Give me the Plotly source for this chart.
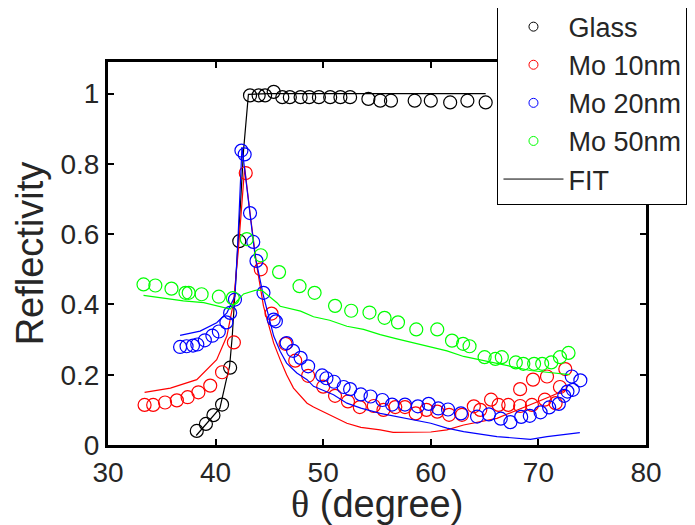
import plotly.graph_objects as go

# measured reflectivity vs incidence angle (degree)
glass_x = [38.25, 39.1, 39.8, 40.6, 41.35, 42.2, 43.2, 44.0, 44.6, 45.4, 46.2, 46.9, 47.9, 48.7,
           49.6, 50.65, 51.6, 52.5, 54.2, 55.3, 56.3, 58.5, 60.0, 61.8, 63.4, 65.1]
glass_y = [0.04, 0.06, 0.085, 0.115, 0.22, 0.58, 0.995, 0.995, 0.995, 1.005, 0.99, 0.99, 0.99, 0.99,
           0.99, 0.99, 0.99, 0.99, 0.985, 0.98, 0.98, 0.98, 0.98, 0.975, 0.98, 0.975]

mo10_x = [33.4, 34.2, 35.3, 36.4, 37.4, 38.4, 39.5, 40.6, 41.7, 42.8, 44.2, 45.2, 46.5, 47.4,
          48.6, 50.0, 51.1, 52.3, 53.4, 54.7, 55.6, 56.7, 57.6, 58.6, 59.6, 60.6, 61.7, 62.9,
          64.0, 64.6, 65.6, 66.3, 67.2, 68.3, 69.4, 70.6, 71.6, 68.3, 69.5, 70.8, 72.0, 72.5]
mo10_y = [0.114, 0.114, 0.121, 0.127, 0.136, 0.15, 0.169, 0.207, 0.292, 0.774, 0.5, 0.374, 0.288, 0.24,
          0.197, 0.166, 0.14, 0.124, 0.108, 0.111, 0.1, 0.108, 0.108, 0.09, 0.1, 0.095, 0.086, 0.086,
          0.11, 0.1, 0.129, 0.114, 0.114, 0.111, 0.114, 0.129, 0.119, 0.159, 0.186, 0.195, 0.165, 0.216]

mo20_x = [36.7, 37.3, 37.9, 38.3, 39.0, 39.7, 40.3, 41.0, 41.35, 41.8, 42.4, 42.7, 43.2, 43.5,
          43.8, 44.45, 45.4, 45.6, 46.6, 47.2, 47.9, 48.6, 49.9, 50.3, 51.0, 51.9, 52.5, 53.5,
          54.4, 55.5, 56.4, 57.6, 58.8, 59.8, 60.7, 61.6, 62.8, 64.3, 65.4, 66.5, 67.4, 68.4,
          69.2, 70.2, 71.0, 71.9, 72.4, 72.7, 73.2, 73.1, 73.9]
mo20_y = [0.279, 0.281, 0.283, 0.286, 0.298, 0.311, 0.323, 0.349, 0.376, 0.414, 0.838, 0.827, 0.66, 0.578,
          0.524, 0.433, 0.357, 0.352, 0.29, 0.268, 0.248, 0.224, 0.198, 0.19, 0.18, 0.165, 0.159, 0.144,
          0.138, 0.128, 0.115, 0.115, 0.11, 0.117, 0.104, 0.101, 0.09, 0.081, 0.087, 0.075, 0.065, 0.08,
          0.083, 0.093, 0.107, 0.117, 0.14, 0.152, 0.157, 0.195, 0.184]

mo50_x = [33.3, 34.4, 35.9, 37.2, 37.5, 38.7, 40.3, 41.6, 42.9, 44.2, 45.9, 47.8, 49.2, 51.1,
          52.6, 54.3, 55.7, 56.95, 58.65, 60.6, 61.97, 63.0, 63.6, 65.0, 66.0, 66.6, 67.9, 68.6,
          69.6, 70.35, 71.2, 72.0, 72.8]
mo50_y = [0.457, 0.454, 0.445, 0.433, 0.433, 0.429, 0.422, 0.418, 0.586, 0.54, 0.492, 0.452, 0.433, 0.396,
          0.382, 0.377, 0.362, 0.349, 0.329, 0.329, 0.297, 0.288, 0.281, 0.25, 0.245, 0.25, 0.235, 0.231,
          0.231, 0.231, 0.235, 0.25, 0.262]

# fitted curves
glass_fit_x = [38.2, 39.2, 40.4, 41.0, 41.3, 41.55, 41.75, 42.0, 42.3, 42.6, 42.85, 43.05, 45, 50, 55, 60, 65.1]
glass_fit_y = [0.027, 0.062, 0.105, 0.186, 0.224, 0.31, 0.405, 0.52, 0.68, 0.84, 0.94, 0.998, 1.0, 1.0, 1.0, 1.0, 1.0]

mo10_fit_x = [33.4, 35.8, 38.25, 40.1, 41.05, 41.66, 42.1, 42.7, 43.2, 43.8, 44.45, 45.4, 46.0, 46.6,
              47.24, 48.5, 49.1, 50.96, 52.2, 53.5, 55.3, 56.5, 58.4, 60.0, 61.5, 63.05, 66.15, 69.26,
              71.1, 72.5]
mo10_fit_y = [0.15, 0.162, 0.186, 0.243, 0.31, 0.405, 0.55, 0.79, 0.66, 0.515, 0.395, 0.29, 0.243, 0.2,
              0.162, 0.119, 0.108, 0.081, 0.062, 0.05, 0.043, 0.036, 0.036, 0.037, 0.043, 0.057, 0.076, 0.114,
              0.138, 0.157]

mo20_fit_x = [36.7, 38.56, 40.1, 41.05, 41.8, 42.1, 42.45, 43.0, 43.67, 44.45, 45.4, 46.0, 46.6, 47.55,
              48.5, 49.1, 50.96, 52.2, 53.5, 55.3, 58.4, 60.0, 61.5, 63.05, 66.15, 69.26, 70.8, 72.4, 73.85]
mo20_fit_y = [0.312, 0.324, 0.348, 0.376, 0.424, 0.6, 0.848, 0.7, 0.538, 0.424, 0.31, 0.267, 0.233, 0.205,
              0.186, 0.167, 0.143, 0.119, 0.105, 0.09, 0.071, 0.062, 0.048, 0.038, 0.024, 0.016, 0.024, 0.029, 0.035]

mo50_fit_x = [33.3, 35.8, 37.0, 38.9, 41.35, 42.0, 42.6, 43.8, 44.3, 45.7, 46.0, 47.9, 49.1, 50.6,
              52.2, 53.75, 55.3, 56.85, 58.4, 60.0, 61.5, 63.05, 66.15, 69.26, 70.8, 72.4, 72.9]
mo50_fit_y = [0.426, 0.416, 0.41, 0.405, 0.387, 0.41, 0.43, 0.441, 0.44, 0.405, 0.395, 0.381, 0.365, 0.355,
              0.338, 0.329, 0.314, 0.302, 0.29, 0.278, 0.268, 0.252, 0.233, 0.212, 0.207, 0.203, 0.2]

series = [
    ('Glass', 'black', glass_x, glass_y, glass_fit_x, glass_fit_y),
    ('Mo 10nm', '#ff0000', mo10_x, mo10_y, mo10_fit_x, mo10_fit_y),
    ('Mo 20nm', '#0000ff', mo20_x, mo20_y, mo20_fit_x, mo20_fit_y),
    ('Mo 50nm', '#00ff00', mo50_x, mo50_y, mo50_fit_x, mo50_fit_y),
]

fig = go.Figure()
for name, col, x, y, fx, fy in series:
    fig.add_trace(go.Scatter(x=fx, y=fy, mode='lines', line=dict(color=col, width=1.2),
                             showlegend=False, hoverinfo='skip'))
    fig.add_trace(go.Scatter(x=x, y=y, mode='markers', showlegend=False,
                             marker=dict(symbol='circle-open', size=13, color=col, line=dict(width=1.2))))

# legend entries (smaller symbols as in the original)
for name, col, x, y, fx, fy in series:
    fig.add_trace(go.Scatter(x=[None], y=[None], mode='markers', name=name,
                             marker=dict(symbol='circle-open', size=9, color=col, line=dict(width=1))))
fig.add_trace(go.Scatter(x=[None], y=[None], mode='lines', name='FIT', line=dict(color='black', width=1)))

font_fam = 'Liberation Sans, Arial, sans-serif'
axis_font = dict(family=font_fam, size=28, color='#262626')
title_font = dict(family=font_fam, size=38, color='#262626')
fig.update_xaxes(range=[30, 80], tickvals=[30, 40, 50, 60, 70, 80], ticks='inside', ticklen=6, tickwidth=2,
                 tickcolor='black', showline=True, linewidth=3, linecolor='black', mirror='ticks',
                 showgrid=False, zeroline=False, tickfont=axis_font)
fig.update_yaxes(range=[0, 1.09], tickvals=[0, 0.2, 0.4, 0.6, 0.8, 1], ticktext=['0', '0.2', '0.4', '0.6', '0.8', '1'],
                 ticks='inside', ticklen=6, tickwidth=2, tickcolor='black', showline=True, linewidth=3,
                 linecolor='black', mirror='ticks', showgrid=False, zeroline=False, tickfont=axis_font,
                 title=dict(text='Reflectivity', font=title_font, standoff=6))

# x title as an annotation so it sits a little higher than the axis title would
fig.add_annotation(text="<span style='font-family:Liberation Serif'>θ</span> (degree)",
                   xref='paper', yref='paper', x=0.5, y=-0.153, xanchor='center', yanchor='middle',
                   showarrow=False, font=title_font)

# the page adds an 8px body margin, so the margins are set 8px smaller on the top/left
fig.update_layout(width=695, height=525, plot_bgcolor='white', paper_bgcolor='white',
                  margin=dict(l=100, r=57, t=54, b=88, autoexpand=False),
                  legend=dict(x=0.723, y=1.159, xanchor='left', yanchor='top', bgcolor='white',
                              bordercolor='black', borderwidth=1.5, tracegroupgap=0, itemwidth=60,
                              font=dict(family=font_fam, size=27, color='#262626')))

fig.write_html("out.html")
